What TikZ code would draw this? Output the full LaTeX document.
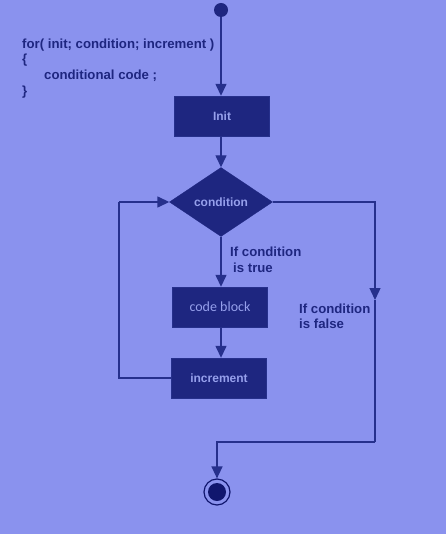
\documentclass[tikz,border=0pt]{standalone}
\usepackage{fontspec}
\setmainfont{Liberation Sans}
\newfontfamily\blockfont{Carlito}
\usetikzlibrary{shapes.geometric,arrows.meta}

\definecolor{bgblue}{RGB}{138,146,238}
\definecolor{boxblue}{RGB}{30,38,128}
\definecolor{lineblue}{RGB}{38,48,140}
\definecolor{paleblue}{RGB}{150,160,236}
\definecolor{dotblue}{RGB}{16,22,110}

\tikzset{
  box/.style={rectangle, fill=boxblue, draw=lineblue, minimum width=95pt, minimum height=40pt,
    inner sep=0pt, text=paleblue, font=\fontsize{12}{14}\selectfont\bfseries},
  decision/.style={diamond, fill=boxblue, draw=boxblue, minimum width=103pt, minimum height=69pt,
    inner sep=0pt, text=paleblue, font=\fontsize{12}{14}\selectfont\bfseries},
  flow/.style={draw=lineblue, line width=1.4pt},
  arr/.style={flow, -{Triangle[length=12pt,width=11pt]}},
  label/.style={text=boxblue, font=\fontsize{13.2}{16}\selectfont\bfseries, align=left, inner sep=0pt},
}

\begin{document}
\begin{tikzpicture}[x=1pt,y=-1pt]

\fill[bgblue] (0,0) rectangle (446,534);
\useasboundingbox (0,0) rectangle (446,534);

\node[label, anchor=west] (l1) at (22,45) {for( init; condition; increment )};
\node[label, anchor=west] (l2) at (22,60) {\{};
\node[label, anchor=west] (l3) at (44,76) {conditional code ;};
\node[label, anchor=west] (l4) at (22,92) {\}};

\node[circle, fill=boxblue, minimum size=14pt, inner sep=0pt] (start) at (221,10) {};
\node[box] (init) at (222,116) {Init};
\node[decision] (cond) at (221,202) {condition};
\node[box, font=\blockfont\fontsize{14}{15}\selectfont] (code) at (220,307) {code block};
\node[box] (inc) at (219,378) {increment};
\node[circle, draw=dotblue, line width=1.2pt, minimum size=26pt, inner sep=0pt] (stop) at (217,492) {};
\fill[dotblue] (stop) circle (9pt);

\node[label, anchor=west] (ltrue) at (230,252) {If condition};
\node[label, anchor=west] (ltrue2) at (233,268) {is true};
\node[label, anchor=west] (lfalse) at (299,309) {If condition};
\node[label, anchor=west] (lfalse2) at (299,324) {is false};

\coordinate (lp) at (119,202);
\coordinate (rt) at (375,300);
\coordinate (rb) at (375,442);

\draw[arr] (start) -- (start |- init.north);
\draw[arr] (start |- init.south) -- (cond.north);
\draw[arr] (cond.south) -- (cond.south |- code.north);
\draw[arr] (cond.south |- code.south) -- (cond.south |- inc.north);
\draw[flow] (inc.west) -| (lp);
\draw[arr] (lp) -- (cond.west);
\draw[arr] (cond.east) -| (rt);
\draw[flow] (rt) -- (rb);
\draw[arr] (rb) -| (stop.north);

\end{tikzpicture}
\end{document}
